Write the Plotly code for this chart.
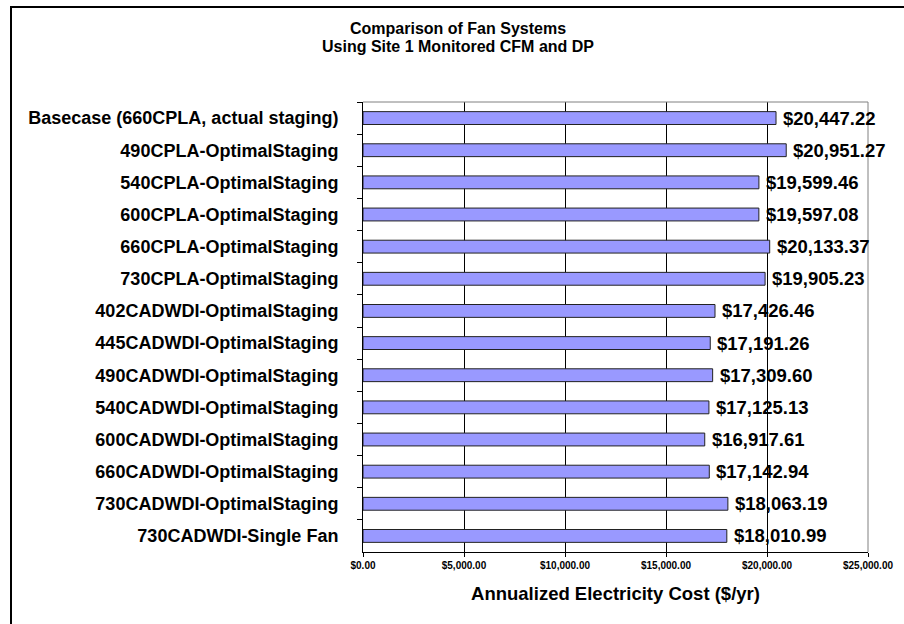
import plotly.graph_objects as go

# Fan system configurations, listed top to bottom
systems = [
    "Basecase (660CPLA, actual staging)",
    "490CPLA-OptimalStaging",
    "540CPLA-OptimalStaging",
    "600CPLA-OptimalStaging",
    "660CPLA-OptimalStaging",
    "730CPLA-OptimalStaging",
    "402CADWDI-OptimalStaging",
    "445CADWDI-OptimalStaging",
    "490CADWDI-OptimalStaging",
    "540CADWDI-OptimalStaging",
    "600CADWDI-OptimalStaging",
    "660CADWDI-OptimalStaging",
    "730CADWDI-OptimalStaging",
    "730CADWDI-Single Fan",
]

# Annualized electricity cost ($/yr)
annual_cost = [
    20447.22, 20951.27, 19599.46, 19597.08, 20133.37, 19905.23,
    17426.46, 17191.26, 17309.60, 17125.13, 16917.61, 17142.94,
    18063.19, 18010.99,
]

x_tick_values = [0, 5000, 10000, 15000, 20000, 25000]
x_tick_labels = ["$0.00", "$5,000.00", "$10,000.00", "$15,000.00", "$20,000.00", "$25,000.00"]

FONT = "Liberation Sans, Arial, sans-serif"
W, H = 904, 624
L, R, T, B = 363, 36, 102, 72
plot_w = W - L - R
plot_h = H - T - B


def px_to_paper_x(px):
    return (px - L) / plot_w


def px_to_paper_y(py):
    return (H - B - py) / plot_h


fig = go.Figure(
    go.Bar(
        x=annual_cost,
        y=systems,
        orientation="h",
        marker=dict(color="#9999FF", line=dict(color="#222222", width=1)),
        hoverinfo="skip",
    )
)

# Value labels just past the end of each bar
for name, value in zip(systems, annual_cost):
    fig.add_annotation(
        x=value, y=name, xref="x", yref="y",
        text=f"${value:,.2f}",
        xanchor="left", yanchor="middle", xshift=5, showarrow=False,
        font=dict(family=FONT, size=18.5, color="black", weight="bold"),
    )

fig.update_layout(
    width=W,
    height=H,
    margin=dict(l=L, r=R, t=T, b=B, pad=0),
    paper_bgcolor="white",
    plot_bgcolor="white",
    bargap=0.6,
    showlegend=False,
    font=dict(family=FONT, color="black"),
)

fig.update_xaxes(
    range=[0, 25000],
    tickvals=x_tick_values,
    ticktext=x_tick_labels,
    tickfont=dict(family=FONT, size=10, color="black", weight="bold"),
    showgrid=True,
    gridcolor="black",
    gridwidth=1,
    showline=True,
    linecolor="black",
    linewidth=1,
    ticks="outside",
    ticklen=4,
    tickcolor="black",
    zeroline=False,
    title=dict(
        text="Annualized Electricity Cost ($/yr)",
        font=dict(family=FONT, size=18.5, color="black", weight="bold"),
        standoff=17,
    ),
)

fig.update_yaxes(
    type="category",
    autorange="reversed",
    tickson="boundaries",
    ticks="outside",
    ticklen=5,
    tickcolor="black",
    showline=True,
    linecolor="black",
    linewidth=1,
    showgrid=False,
    zeroline=False,
    tickfont=dict(family=FONT, size=18, color="black", weight="bold"),
    ticklabelstandoff=20,
)

# Grey frame on the top and right sides of the plot area
fig.add_shape(type="line", xref="paper", yref="paper", x0=0, x1=1, y0=1, y1=1,
              line=dict(color="#808080", width=1), layer="above")
fig.add_shape(type="line", xref="paper", yref="paper", x0=1, x1=1, y0=0, y1=1,
              line=dict(color="#808080", width=1), layer="above")

# Outer chart border
fig.add_shape(type="rect", xref="paper", yref="paper",
              x0=px_to_paper_x(11), x1=px_to_paper_x(912),
              y0=px_to_paper_y(632), y1=px_to_paper_y(7),
              line=dict(color="black", width=2), fillcolor="rgba(0,0,0,0)", layer="above")

# Two-line chart title
title_lines = ["Comparison of Fan Systems", "Using Site 1 Monitored CFM and DP"]
for text, ypx in zip(title_lines, [28, 47]):
    fig.add_annotation(
        text=text, xref="paper", yref="paper",
        x=px_to_paper_x(458), y=px_to_paper_y(ypx),
        xanchor="center", yanchor="middle", showarrow=False,
        font=dict(family=FONT, size=16, color="black", weight="bold"),
    )

fig.write_html("out.html")
